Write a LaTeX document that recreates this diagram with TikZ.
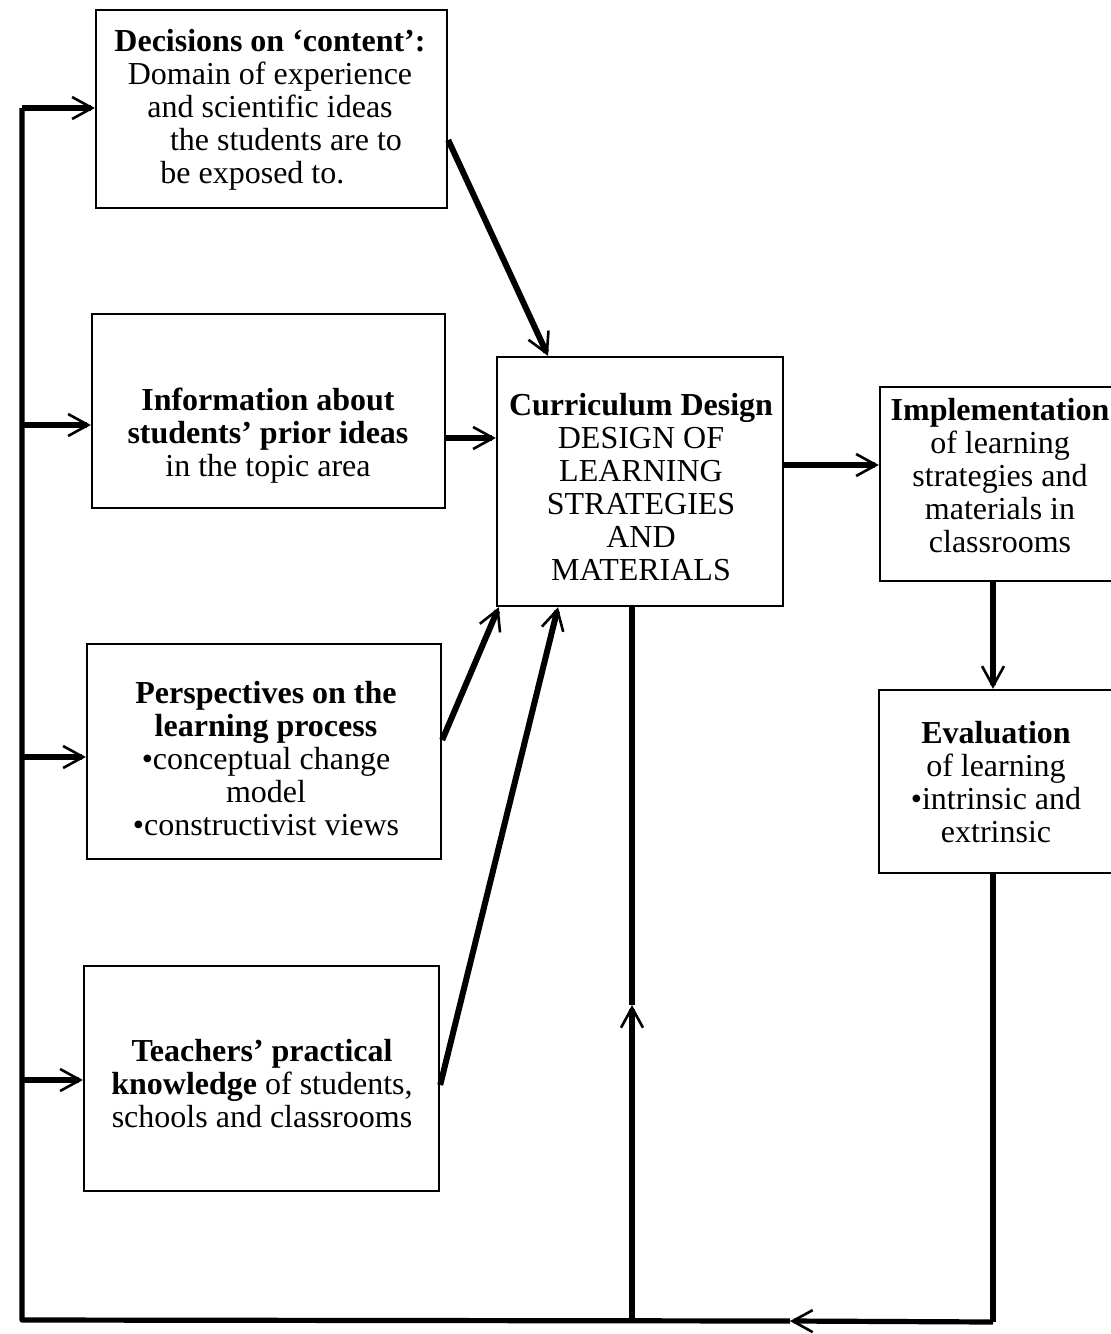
\documentclass[tikz,border=0pt]{standalone}
\usepackage{fontspec}
\setmainfont{Liberation Serif}
\usetikzlibrary{arrows.meta,calc}
\tikzset{
  box/.style={draw, line width=1.2pt, inner sep=0pt},
  txt/.style={align=center, font=\fontsize{16}{16.5}\selectfont, inner sep=0pt},
  conn/.style={line width=3pt},
  tipped/.style={conn, -{Straight Barb[length=10pt, width=11pt, line width=1.3pt]}},
  feed/.style={line width=2.6pt}
}
\begin{document}
\begin{tikzpicture}[x=0.5pt, y=-0.5pt]
\useasboundingbox (0,0) rectangle (1111,1334);
\clip (0,0) rectangle (1111,1334);
% boxes
\node[box, minimum width=175.5pt, minimum height=99pt] (box1) at (271.5,109) {};
\node[box, minimum width=176.5pt, minimum height=97pt] (box2) at (268.5,411) {};
\node[box, minimum width=177pt, minimum height=107.5pt] (box3) at (264,751.5) {};
\node[box, minimum width=177.5pt, minimum height=112.5pt] (box4) at (261.5,1078.5) {};
\node[box, minimum width=143pt, minimum height=124.5pt] (cen) at (640,481.5) {};
\node[box, minimum width=116.5pt, minimum height=97pt] (impl) at (996.5,484) {};
\node[box, minimum width=117pt, minimum height=91.5pt] (eval) at (996,781.5) {};
% texts
\node[txt] (t1) at (270,110) {\textbf{Decisions on `content':}\\Domain of experience\\and scientific ideas\\\hspace*{1em}the students are to\\be exposed to.\hspace*{1.1em}};
\node[txt] (t2) at (268,436) {\textbf{Information about}\\\textbf{students' prior ideas}\\in the topic area};
\node[txt] (t3) at (266,759) {\textbf{Perspectives on the}\\\textbf{learning process}\\•conceptual change\\model\\•constructivist views};
\node[txt] (t4) at (262,1084) {\textbf{Teachers' practical}\\\textbf{knowledge} of students,\\schools and classrooms};
\node[txt] (tc) at (641,487) {\textbf{Curriculum Design}\\DESIGN OF\\LEARNING\\STRATEGIES\\AND\\MATERIALS};
\node[txt] (ti) at (1000,476) {\textbf{Implementation}\\of learning\\strategies and\\materials in\\classrooms};
\node[txt] (te) at (996,782) {\textbf{Evaluation}\\of learning\\•intrinsic and\\extrinsic};
% feedback loop coordinates
\coordinate (ebot) at (993,1322);
\coordinate (farrow) at (790,1321);
\coordinate (lbot) at (22,1320);
\coordinate (ltop) at (22,108);
\coordinate (j2) at (22,425);
\coordinate (j3) at (22,757);
\coordinate (j4) at (22,1080);
\coordinate (vbot) at (632,1321);
\coordinate (varrow) at (632,1005);
% feedback loop
\draw[feed, line join=round] ([xshift=-1.5pt]eval.south) -- ([xshift=-1.5pt]eval.south |- ebot) -- (ebot);
\draw[feed, -{Straight Barb[length=10pt, width=11pt, line width=1.3pt]}] (ebot) -- (farrow);
\draw[feed, line join=round] (farrow) -- (lbot) -- (ltop);
\draw[feed, -{Straight Barb[length=10pt, width=11pt, line width=1.3pt]}] (ltop) -- (ltop -| box1.west);
\draw[feed, -{Straight Barb[length=10pt, width=11pt, line width=1.3pt]}] (j2) -- (j2 -| box2.west);
\draw[feed, -{Straight Barb[length=10pt, width=11pt, line width=1.3pt]}] (j3) -- (j3 -| box3.west);
\draw[feed, -{Straight Barb[length=10pt, width=11pt, line width=1.3pt]}] (j4) -- (j4 -| box4.west);
\draw[tipped] (vbot) -- (varrow);
\draw[conn] (varrow) -- ([xshift=-4pt]cen.south);
% inputs to curriculum design
\draw[tipped] ([yshift=-15.5pt]box1.east) -- ([xshift=-46pt]cen.north);
\coordinate (b2e) at ([yshift=-13.5pt]box2.east);
\draw[tipped] (b2e) -- (b2e -| cen.west);
\draw[tipped] ([yshift=5.75pt]box3.east) -- ([xshift=1.5pt]cen.south west);
\draw[tipped] ([yshift=-3.25pt]box4.east) -- ([xshift=-41pt]cen.south);
% outputs
\coordinate (ce) at ([yshift=8.25pt]cen.east);
\draw[tipped] (ce) -- (ce -| impl.west);
\draw[tipped] ([xshift=-1.75pt]impl.south) -- ([xshift=-1.75pt]impl.south |- eval.north);
\end{tikzpicture}
\end{document}
